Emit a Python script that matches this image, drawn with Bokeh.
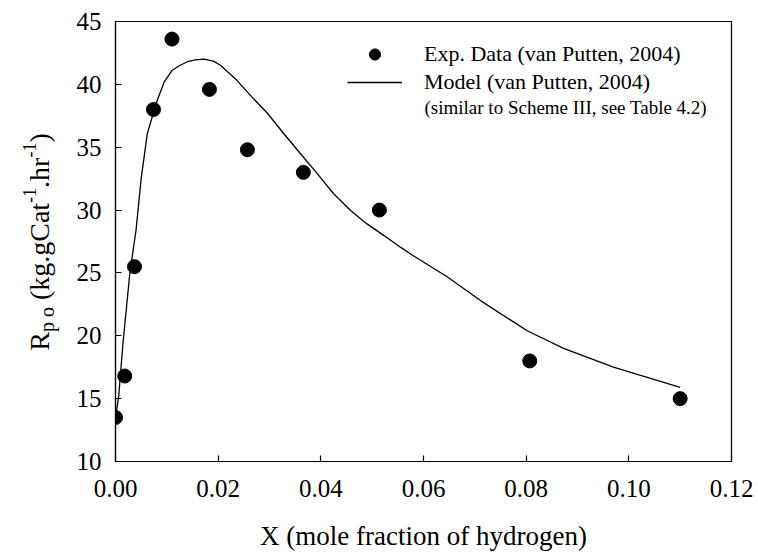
from bokeh.plotting import figure
from bokeh.layouts import row
from bokeh.models import Range1d, FixedTicker, Label, Legend, LegendItem, PrintfTickFormatter, Div
from bokeh.embed import file_html
from bokeh.resources import INLINE

# ---- data ----
exp_x = [0.0, 0.0018, 0.0037, 0.0074, 0.0110, 0.0183, 0.0257, 0.0366, 0.0514, 0.0807, 0.1100]
exp_y = [13.5, 16.8, 25.5, 38.0, 43.6, 39.6, 34.8, 33.0, 30.0, 18.0, 15.0]

model_x = [0.0, 0.0006, 0.0015, 0.0028, 0.0040, 0.0050, 0.0062, 0.0081, 0.0095, 0.0110,
           0.0125, 0.0140, 0.0156, 0.0172, 0.0191, 0.0205, 0.0237, 0.0269, 0.0296, 0.0328,
           0.0360, 0.0393, 0.0425, 0.0458, 0.0490, 0.0523, 0.0555, 0.0581, 0.0646, 0.0711,
           0.0802, 0.0873, 0.0970, 0.1100]
model_y = [13.5, 15.1, 19.6, 25.0, 28.4, 32.5, 36.1, 38.7, 40.2, 41.1,
           41.5, 41.8, 41.95, 42.0, 41.85, 41.5, 40.3, 38.85, 37.7, 36.07,
           34.5, 32.9, 31.3, 29.97, 28.9, 27.97, 27.05, 26.35, 24.7, 22.8,
           20.4, 19.0, 17.5, 15.9]

x_ticks = [0.0, 0.02, 0.04, 0.06, 0.08, 0.10, 0.12]
y_ticks = [10, 15, 20, 25, 30, 35, 40, 45]

exp_label = "Exp. Data (van Putten, 2004)"
model_label = "Model (van Putten, 2004)"
model_note = "(similar to Scheme III, see Table 4.2)"
x_title = "X (mole fraction of hydrogen)"
y_main, y_sub, y_mid, y_sup, y_mid2, y_end = "R", "p o", " (kg.gCat", "-1", ".hr", ")"

FONT = "Liberation Serif"
LEFT_W = 60
H = 554

p = figure(width=758 - LEFT_W, height=H, x_range=Range1d(0, 0.12), y_range=Range1d(10, 45),
           output_backend="svg", toolbar_location=None,
           min_border_left=115 - LEFT_W, min_border_right=27, min_border_top=21, min_border_bottom=93)
p.margin = 0
p.grid.visible = False
p.background_fill_color = "white"
p.border_fill_color = "white"
p.outline_line_color = "black"
p.outline_line_width = 1.2

for ax in (p.xaxis, p.yaxis):
    ax.axis_line_color = "black"
    ax.axis_line_width = 1.2
    ax.major_tick_in = 6
    ax.major_tick_out = 0
    ax.major_tick_line_width = 1.2
    ax.major_tick_line_color = "black"
    ax.minor_tick_line_color = None
    ax.major_label_text_font = FONT
    ax.major_label_text_font_size = "25px"
    ax.major_label_text_color = "black"

p.xaxis.ticker = FixedTicker(ticks=x_ticks)
p.yaxis.ticker = FixedTicker(ticks=y_ticks)
p.xaxis.formatter = PrintfTickFormatter(format="%.2f")
p.xaxis.major_label_standoff = 18
p.yaxis.major_label_standoff = 14

p.xaxis.axis_label = x_title
p.xaxis.axis_label_text_font = FONT
p.xaxis.axis_label_text_font_size = "27px"
p.xaxis.axis_label_text_font_style = "normal"
p.xaxis.axis_label_text_color = "black"
p.xaxis.axis_label_standoff = 21

line_r = p.line(model_x, model_y, line_color="black", line_width=1.3)
pts_r = p.scatter(exp_x, exp_y, marker="circle", size=14, fill_color="black", line_color="black")

legend = Legend(items=[LegendItem(label=exp_label, renderers=[pts_r]),
                       LegendItem(label=model_label, renderers=[line_r])],
                location=(232, 365), padding=0, margin=0, spacing=0,
                glyph_width=55, glyph_height=28, label_height=28, label_standoff=22,
                label_text_font=FONT, label_text_font_size="22px", label_text_color="black",
                border_line_color=None, background_fill_alpha=0)
p.add_layout(legend)

p.add_layout(Label(x=309, y=354, x_units="screen", y_units="screen", text=model_note,
                   text_font=FONT, text_font_size="19px", text_baseline="middle",
                   text_align="left", text_color="black"))

# ---- left strip: rotated y-axis title with real sub/superscripts ----
sub_css = "font-size:20px;position:relative;top:5px;"
sup_css = "font-size:18px;position:relative;top:-13px;"
ytitle_html = (
    f'<div style="position:relative;width:{LEFT_W}px;height:{H}px;overflow:visible;">'
    f'<div style="position:absolute;left:0;top:0;white-space:nowrap;'
    f"font-family:'{FONT}',serif;font-size:28px;line-height:28px;color:black;"
    f'transform-origin:0 0;transform:translate(26px,242px) rotate(-90deg) translate(-50%,0);">'
    f'{y_main}<span style="{sub_css}">{y_sub}</span>{y_mid}'
    f'<span style="{sup_css}">{y_sup}</span>{y_mid2}'
    f'<span style="{sup_css}">{y_sup}</span>{y_end}</div></div>'
)
ytitle = Div(text=ytitle_html, width=LEFT_W, height=H, margin=0)

layout = row(ytitle, p)
open("out.html", "w").write(file_html(layout, INLINE))
